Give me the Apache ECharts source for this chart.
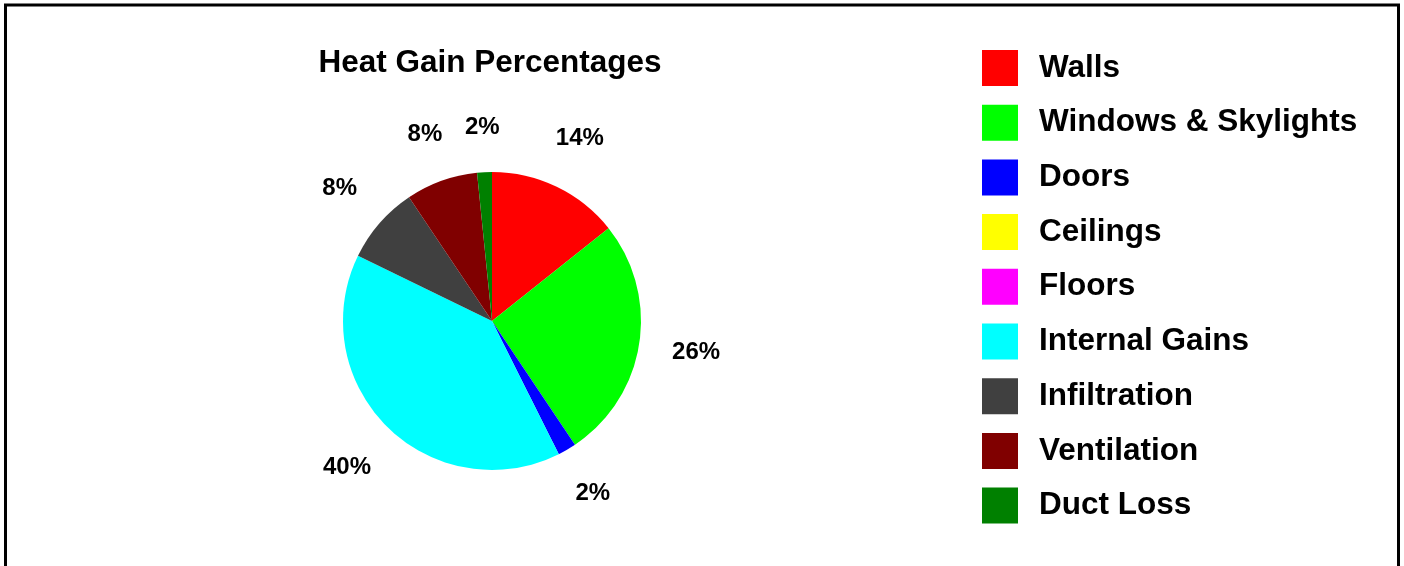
<!DOCTYPE html>
<html>
<head>
<meta charset="utf-8">
<script src="https://cdn.jsdelivr.net/npm/echarts@6/dist/echarts.min.js"></script>
<style>
  html, body { margin: 0; padding: 0; background: #fff; }
  #chart { width: 1404px; height: 566px; }
</style>
</head>
<body>
<div id="chart"></div>
<script>
  // heat gain shares (percent)
  var categories = ['Walls', 'Windows & Skylights', 'Doors', 'Ceilings', 'Floors',
    'Internal Gains', 'Infiltration', 'Ventilation', 'Duct Loss'];
  var shares = [14.3, 26.3, 2.0, 0, 0, 39.6, 8.4, 7.8, 1.6];
  var colors = ['#ff0000', '#00ff00', '#0000ff', '#ffff00', '#ff00ff',
    '#00ffff', '#404040', '#800000', '#008000'];

  var fontFam = '"Liberation Sans", Arial, sans-serif';
  var pieCenter = [492, 321];
  var pieRadius = 149;
  var labelGap = 32;

  var pieData = categories.map(function (name, i) {
    return { name: name, value: shares[i], itemStyle: { color: colors[i] } };
  });

  var chart = echarts.init(document.getElementById('chart'));
  chart.setOption({
    animation: false,
    title: {
      text: 'Heat Gain Percentages',
      left: 490,
      top: 47,
      padding: 0,
      textAlign: 'center',
      textStyle: { fontFamily: fontFam, fontSize: 31.5, fontWeight: 'bold', color: '#000' }
    },
    legend: {
      orient: 'vertical',
      left: 982,
      top: 50,
      padding: 0,
      itemWidth: 36,
      itemHeight: 36,
      itemGap: 18.7,
      icon: 'rect',
      selectedMode: false,
      data: categories,
      textStyle: {
        fontFamily: fontFam, fontSize: 31.5, fontWeight: 'bold', color: '#000',
        padding: [6, 0, 0, 16]
      }
    },
    graphic: [{
      type: 'rect',
      shape: { x: 5.5, y: 5, width: 1393, height: 640 },
      style: { fill: null, stroke: '#000', lineWidth: 3 },
      silent: true
    }],
    series: [{
      type: 'pie',
      center: pieCenter,
      radius: [0, pieRadius],
      startAngle: 90,
      clockwise: true,
      silent: true,
      label: {
        show: true,
        position: 'inside',
        fontFamily: fontFam, fontSize: 24, fontWeight: 'bold', color: '#000',
        formatter: function (p) { return p.value ? Math.round(p.value) + '%' : ''; }
      },
      // push each label out along its slice direction until its box clears the pie by labelGap
      labelLayout: function (p) {
        var r = p.labelRect;
        var dx = r.x + r.width / 2 - pieCenter[0];
        var dy = r.y + r.height / 2 - pieCenter[1];
        var len = Math.sqrt(dx * dx + dy * dy) || 1;
        var ux = dx / len, uy = dy / len;
        var d = pieRadius + labelGap + Math.abs(ux) * r.width / 2 + Math.abs(uy) * r.height / 2;
        return { x: pieCenter[0] + ux * d, y: pieCenter[1] + uy * d };
      },
      labelLine: { show: false },
      data: pieData
    }]
  });
</script>
</body>
</html>
